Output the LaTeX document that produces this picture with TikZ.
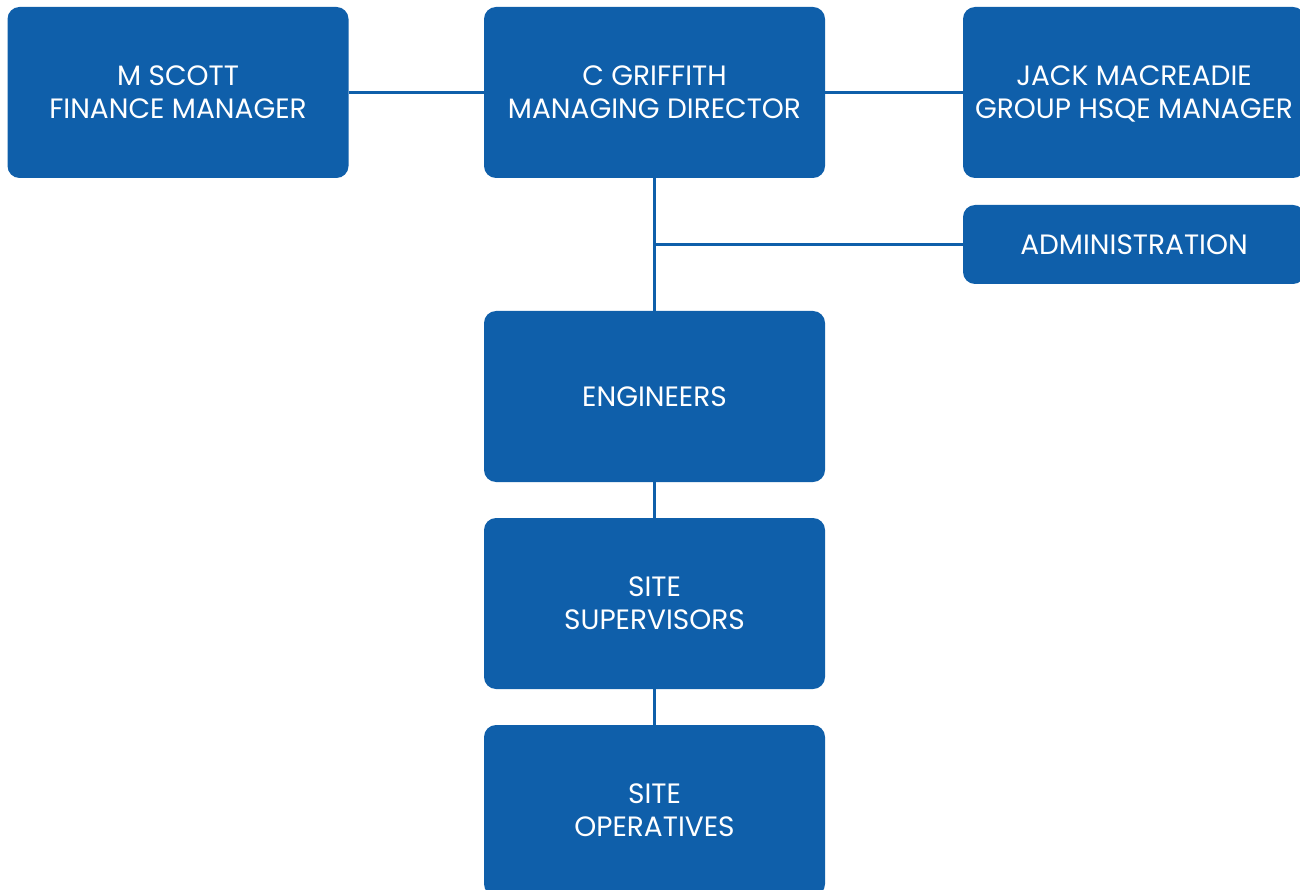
\documentclass[tikz,border=0pt]{standalone}
\usepackage{fontspec}
\setmainfont{Poppins}
\definecolor{boxblue}{HTML}{0F5FAA}
\begin{document}
\begin{tikzpicture}[x=1pt,y=-1pt,
  box/.style={fill=boxblue, draw=none, rounded corners=12pt, text=white,
    minimum width=341pt, minimum height=171pt, align=center, inner sep=0pt,
    font=\fontsize{28}{33}\selectfont},
  link/.style={draw=boxblue, line width=3pt}]
\useasboundingbox (0,0) rectangle (1300,890);
\clip (0,0) rectangle (1300,890);
\node[box] (fin) at (178,92.5) {M SCOTT\\FINANCE MANAGER};
\node[box] (md) at (654.5,92.5) {C GRIFFITH\\MANAGING DIRECTOR};
\node[box, minimum width=342pt] (hsqe) at (1134,92.5) {JACK MACREADIE\\GROUP HS\smash{Q}E MANAGER};
\node[box, minimum width=342pt, minimum height=79pt] (adm) at (1134,244.5) {ADMINISTRATION};
\node[box] (eng) at (654.5,396.5) {ENGINEERS};
\node[box] (sup) at (654.5,603.5) {SITE\\SUPERVISORS};
\node[box] (ops) at (654.5,810.5) {SITE\\OPERATIVES};
\coordinate (j) at (md.south |- adm.west);
\draw[link] (fin) -- (md);
\draw[link] (md) -- (hsqe);
\draw[link] (md) -- (eng);
\draw[link] (j) -- (adm);
\draw[link] (eng) -- (sup);
\draw[link] (sup) -- (ops);
\end{tikzpicture}
\end{document}
